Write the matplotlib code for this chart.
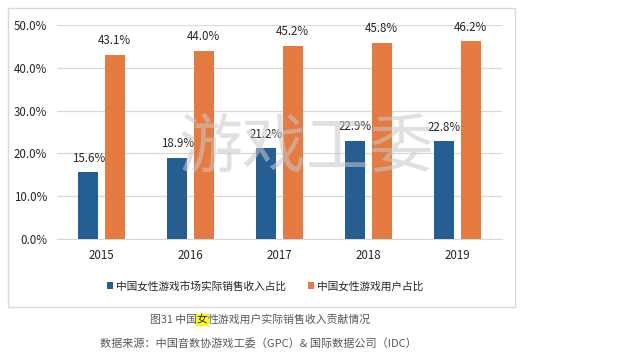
import matplotlib
matplotlib.use("Agg")
import matplotlib.pyplot as plt
from matplotlib.patches import Rectangle
import numpy as np

plt.rcParams['font.family'] = ['Noto Sans CJK SC', 'DejaVu Sans']

years = ['2015', '2016', '2017', '2018', '2019']
revenue_share = [15.6, 18.9, 21.2, 22.9, 22.8]
user_share = [43.1, 44.0, 45.2, 45.8, 46.2]
series_names = ['中国女性游戏市场实际销售收入占比', '中国女性游戏用户占比']
yticks = [0, 10, 20, 30, 40, 50]

blue = '#255E91'
orange = '#E67B42'

fig = plt.figure(figsize=(6.17, 3.64), dpi=100)
W, H = 617, 364

# chart frame
frame = Rectangle((8 / W, 1 - 307 / H), (515 - 8) / W, (307 - 8) / H,
                  transform=fig.transFigure, fill=False, edgecolor='#D9D9D9', lw=1.0)
fig.patches.append(frame)

ax = fig.add_axes([57 / W, 1 - 239 / H, (502 - 57) / W, (239 - 25) / H])
x = np.arange(len(years))
bw = 0.225
gap = 0.07
b1 = ax.bar(x - (bw + gap) / 2, revenue_share, bw, color=blue, zorder=3)
b2 = ax.bar(x + (bw + gap) / 2, user_share, bw, color=orange, zorder=3)

for bars, vals in ((b1, revenue_share), (b2, user_share)):
    for r, v in zip(bars, vals):
        ax.annotate(f'{v:.1f}%', (r.get_x() + r.get_width() / 2, v),
                    xytext=(0, 5.5), textcoords='offset points',
                    ha='center', va='bottom', fontsize=8.3, color='#262626')

ax.set_xlim(-0.5, len(years) - 0.5)
ax.set_ylim(0, 50)
ax.set_yticks(yticks)
ax.set_yticklabels([f'{t:.1f}%' for t in yticks])
ax.set_xticks(x)
ax.set_xticklabels(years)
ax.tick_params(axis='both', length=0, labelsize=8.3, colors='#262626')
ax.tick_params(axis='y', pad=7)
ax.tick_params(axis='x', pad=7)
ax.grid(axis='y', color='#D9D9D9', lw=0.9, zorder=0)
for s in ['top', 'right', 'left']:
    ax.spines[s].set_visible(False)
ax.spines['bottom'].set_color('#D9D9D9')

# watermark
fig.text(306 / W, 1 - 150 / H, '游戏工委', fontsize=46, color='#C8C8C8', alpha=0.55,
         ha='center', va='center', zorder=10)

# legend
leg = ax.legend([b1, b2], series_names, loc='center', bbox_to_anchor=(265 / W, 1 - 286 / H),
                bbox_transform=fig.transFigure, ncol=2, frameon=False, fontsize=7.7,
                handlelength=0.6, handleheight=0.6, handletextpad=0.3, columnspacing=2.0)
for t in leg.get_texts():
    t.set_color('#262626')

# caption with highlighted character
fig.canvas.draw()
renderer = fig.canvas.get_renderer()
cap_parts = ['图31 中国', '女', '性游戏用户实际销售收入贡献情况']
cap_y = 1 - 320 / H
xpos = 150 / W
for i, part in enumerate(cap_parts):
    kw = dict(fontsize=7.8, color='#595959', ha='left', va='center')
    if i == 1:
        kw['bbox'] = dict(facecolor='#FFFF00', edgecolor='none', pad=0.5)
        kw['color'] = '#262626'
    t = fig.text(xpos, cap_y, part, **kw)
    bb = t.get_window_extent(renderer=renderer)
    xpos += bb.width / (fig.dpi * fig.get_figwidth())

fig.text(258 / W, 1 - 343 / H, '数据来源：中国音数协游戏工委（GPC）& 国际数据公司（IDC）',
         fontsize=8.0, color='#595959', ha='center', va='center')

fig.savefig('out.png', dpi=100)
